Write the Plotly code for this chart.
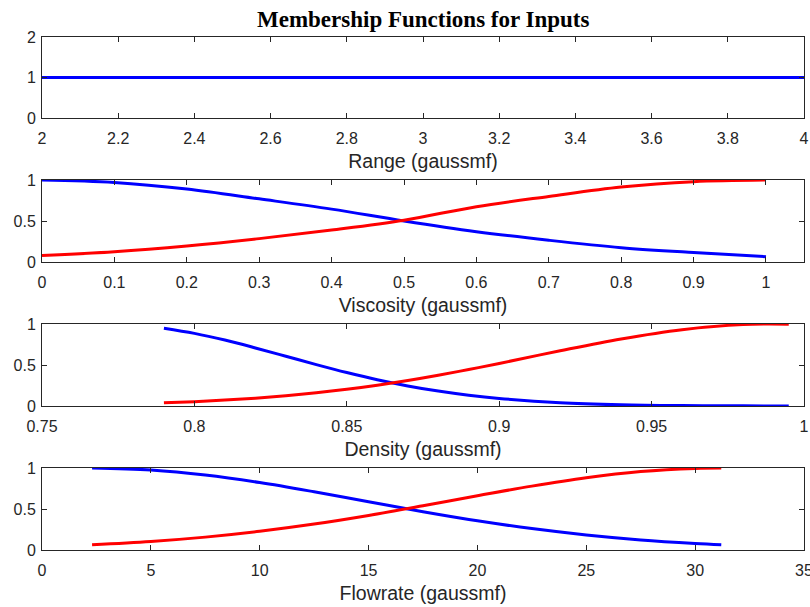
import plotly.graph_objects as go

# ---------------- data ----------------
range_x = [2.0, 4.0]
range_mf1 = [1.0, 1.0]

visc_x = [0.0, 0.1, 0.2, 0.3, 0.4, 0.5, 0.6, 0.7, 0.8, 0.9, 1.0]
visc_low = [1.0, 0.97, 0.89, 0.77, 0.645, 0.5, 0.37, 0.265, 0.175, 0.115, 0.065]
visc_high = [0.08, 0.125, 0.195, 0.285, 0.39, 0.51, 0.675, 0.8, 0.915, 0.98, 1.0]

dens_x = [0.79, 0.80, 0.81, 0.82, 0.83, 0.84, 0.85, 0.86, 0.87, 0.88, 0.89,
          0.90, 0.92, 0.94, 0.96, 0.98, 0.995]
dens_low = [0.949, 0.886, 0.804, 0.708, 0.607, 0.505, 0.408, 0.320, 0.245,
            0.182, 0.131, 0.092, 0.041, 0.0165, 0.006, 0.002, 0.0007]
dens_high = [0.039, 0.053, 0.072, 0.096, 0.125, 0.161, 0.204, 0.254, 0.311,
             0.375, 0.445, 0.519, 0.674, 0.818, 0.931, 0.993, 0.997]

flow_x = [2.3, 5, 7.5, 10, 12.5, 15, 17.5, 20, 22.5, 25, 27.5, 30, 31.2]
flow_low = [1.0, 0.976, 0.915, 0.823, 0.710, 0.588, 0.467, 0.356, 0.261,
            0.183, 0.123, 0.080, 0.064]
flow_high = [0.064, 0.104, 0.157, 0.228, 0.316, 0.421, 0.539, 0.662, 0.779,
             0.881, 0.956, 0.995, 1.0]

titles = ["Range (gaussmf)", "Viscosity (gaussmf)", "Density (gaussmf)", "Flowrate (gaussmf)"]
main_title = "Membership Functions for Inputs"

# tick values per panel
range_ticks = [2.0, 2.2, 2.4, 2.6, 2.8, 3.0, 3.2, 3.4, 3.6, 3.8, 4.0]
visc_ticks = [0, 0.1, 0.2, 0.3, 0.4, 0.5, 0.6, 0.7, 0.8, 0.9, 1.0]
dens_ticks = [0.75, 0.8, 0.85, 0.9, 0.95, 1.0]
flow_ticks = [0, 5, 10, 15, 20, 25, 30, 35]
y_ticks_range = [0, 1, 2]
y_ticks_mf = [0, 0.5, 1]

BLUE = "#0000FF"
RED = "#FF0000"
AX = "#262626"

W, H = 810, 607
fig = go.Figure()

def add(x, y, color, idx):
    suffix = "" if idx == 1 else str(idx)
    fig.add_trace(go.Scatter(x=x, y=y, mode="lines", line=dict(color=color, width=3, shape="spline"),
                             xaxis="x" + suffix, yaxis="y" + suffix, showlegend=False,
                             hoverinfo="skip"))

add(range_x, range_mf1, BLUE, 1)
add(visc_x, visc_low, BLUE, 2)
add(visc_x, visc_high, RED, 2)
add(dens_x, dens_low, BLUE, 3)
add(dens_x, dens_high, RED, 3)
add(flow_x, flow_low, BLUE, 4)
add(flow_x, flow_high, RED, 4)

# pixel bounds of each panel (top, bottom)
panels = [(37, 118), (180, 262), (324, 406), (468, 550)]
xranges = [[2, 4.00001], [0, 1.0525], [0.75, 1.000001], [0, 35.0001]]
xticks = [range_ticks, visc_ticks, dens_ticks, flow_ticks]
xtext = [["2", "2.2", "2.4", "2.6", "2.8", "3", "3.2", "3.4", "3.6", "3.8", "4"],
         ["0", "0.1", "0.2", "0.3", "0.4", "0.5", "0.6", "0.7", "0.8", "0.9", "1"],
         ["0.75", "0.8", "0.85", "0.9", "0.95", "1"],
         [str(v) for v in flow_ticks]]
yranges = [[0, 2], [0, 1], [0, 1], [0, 1]]
yticks = [y_ticks_range, y_ticks_mf, y_ticks_mf, y_ticks_mf]
ytext = [["0", "1", "2"], ["0", "0.5", "1"], ["0", "0.5", "1"], ["0", "0.5", "1"]]

FONT = "Liberation Sans, Arial, sans-serif"
layout = dict(
    width=W, height=H,
    margin=dict(l=42, r=6, t=0, b=0),
    paper_bgcolor="white", plot_bgcolor="white",
    font=dict(family=FONT, size=16, color=AX),
)
for i, (top, bot) in enumerate(panels):
    n = i + 1
    sfx = "" if n == 1 else str(n)
    ydom = [1 - bot / H, 1 - top / H]
    layout["xaxis" + sfx] = dict(
        domain=[0, 1], range=xranges[i], tickmode="array", tickvals=xticks[i], ticktext=xtext[i],
        showline=True, mirror="ticks", linecolor=AX, linewidth=1,
        ticks="inside", ticklen=5, tickcolor=AX, showgrid=False, zeroline=False,
        anchor="y" + sfx, tickfont=dict(family=FONT, size=16, color=AX),
        ticklabelstandoff=6, automargin=False, ticklabeloverflow="allow",
        title=dict(text=titles[i], font=dict(family=FONT, size=19.5, color=AX), standoff=8),
    )
    layout["yaxis" + sfx] = dict(
        domain=ydom, range=yranges[i], tickmode="array", tickvals=yticks[i], ticktext=ytext[i],
        showline=True, mirror="ticks", linecolor=AX, linewidth=1,
        ticks="inside", ticklen=5, tickcolor=AX, showgrid=False, zeroline=False,
        anchor="x" + sfx, tickfont=dict(family=FONT, size=16, color=AX),
        ticklabelstandoff=2, automargin=False, ticklabeloverflow="allow",
    )

layout["annotations"] = [dict(
    text="<b>" + main_title + "</b>", x=0.5, y=1 - 20 / H, xref="paper", yref="paper",
    xanchor="center", yanchor="middle", showarrow=False,
    font=dict(family="Liberation Serif, Times New Roman, serif", size=23, color="black"),
)]
fig.update_layout(**layout)
fig.write_html("out.html")
